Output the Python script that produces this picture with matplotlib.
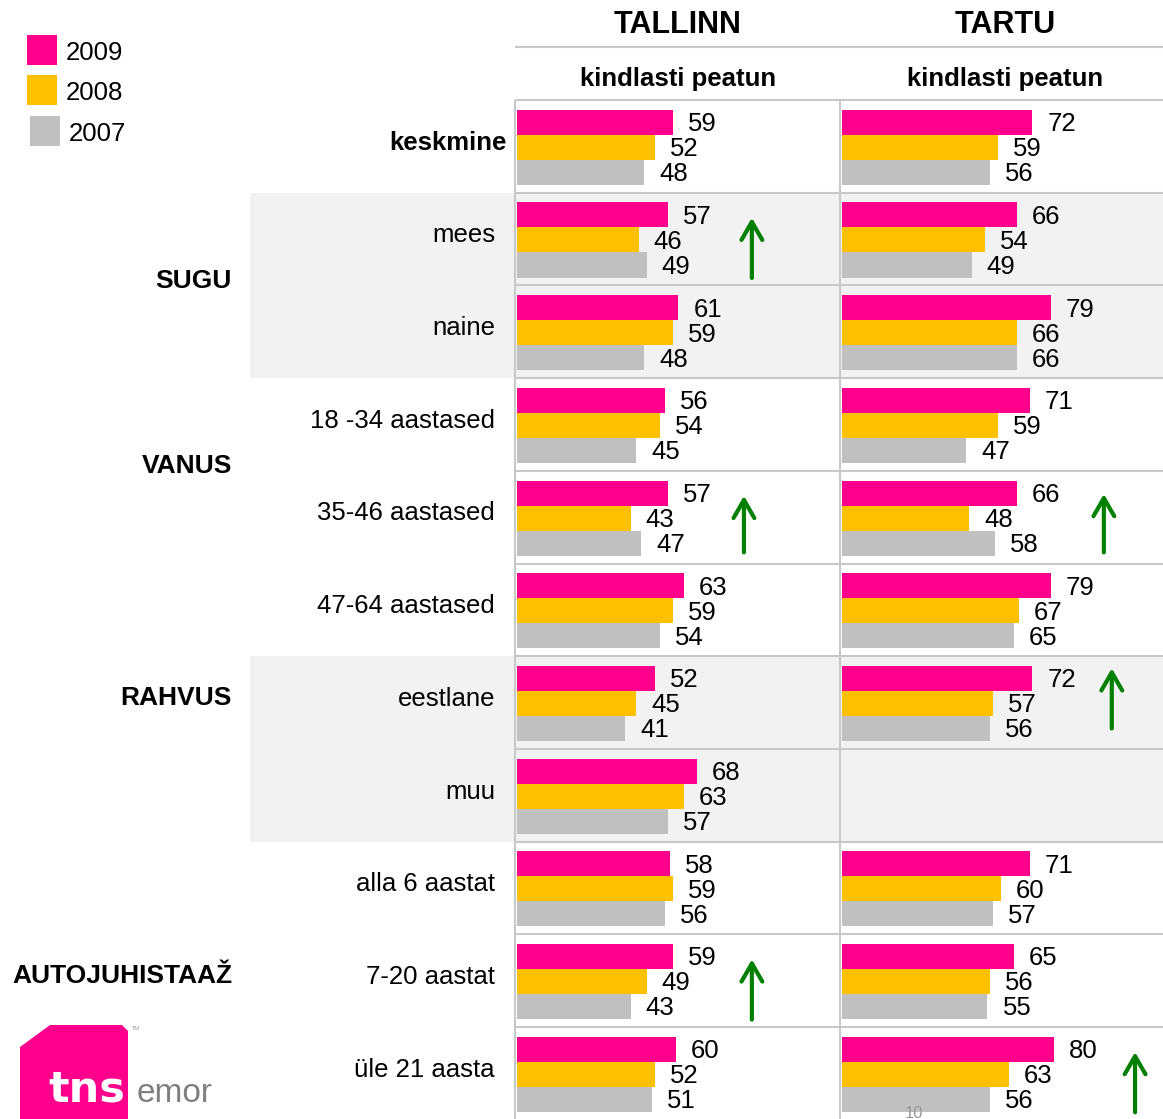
import numpy as np
import matplotlib.pyplot as plt
from matplotlib.patches import Rectangle, Polygon

plt.rcParams['font.family'] = ['Liberation Sans', 'DejaVu Sans']

# andmed
categories = ['keskmine', 'mees', 'naine', '18 -34 aastased', '35-46 aastased',
              '47-64 aastased', 'eestlane', 'muu', 'alla 6 aastat',
              '7-20 aastat', 'üle 21 aasta']
years = ['2009', '2008', '2007']
colors = ['#FF008C', '#FFC000', '#C0C0C0']

tallinn_2009 = [59, 57, 61, 56, 57, 63, 52, 68, 58, 59, 60]
tallinn_2008 = [52, 46, 59, 54, 43, 59, 45, 63, 59, 49, 52]
tallinn_2007 = [48, 49, 48, 45, 47, 54, 41, 57, 56, 43, 51]

tartu_2009 = [72, 66, 79, 71, 66, 79, 72, None, 71, 65, 80]
tartu_2008 = [59, 54, 66, 59, 48, 67, 57, None, 60, 56, 63]
tartu_2007 = [56, 49, 66, 47, 58, 65, 56, None, 57, 55, 56]

groups = ['SUGU', 'VANUS', 'RAHVUS', 'AUTOJUHISTAAŽ']
group_rows = [1.95, 3.95, 6.45, 9.45]   # kus grupi nimi istub (ridades)
shaded_rows = [(1, 2), (6, 2)]           # hall taust: algusrida, ridade arv

# noolekesed: (rida, x protsentides, ülemine, alumine osa reast)
tallinn_arrows = [(1, 88.8, 0.27, 0.92), (4, 85.8, 0.27, 0.88), (9, 88.8, 0.27, 0.92)]
tartu_arrows = [(4, 99.0, 0.25, 0.88), (6, 102.0, 0.13, 0.78), (10, 110.8, 0.27, 0.92)]

W, H = 1163, 1119
TOP = 100
ROW_H = 92.7
PX = 2.645   # pikslit protsendi kohta
GRID = '#C8C8C8'
FS = 18.5

fig = plt.figure(figsize=(W / 100, H / 100), dpi=100)
bg = fig.add_axes([0, 0, 1, 1])
bg.set_xlim(0, W)
bg.set_ylim(H, 0)
bg.axis('off')

# hallid taustaribad
for r0, nr in shaded_rows:
    bg.add_patch(Rectangle((250, TOP + r0 * ROW_H), W - 250, nr * ROW_H,
                           color='#F2F2F2', zorder=0, lw=0))

# tabeli jooned
n = len(categories)
bg.hlines([47, TOP], 515, W, color=GRID, lw=1.5, zorder=1)
bg.hlines([TOP + i * ROW_H for i in range(1, n)], 515, W, color=GRID, lw=1.5, zorder=1)
bg.vlines([515, 840], TOP, H, color=GRID, lw=1.5, zorder=1)

# reanimed
for i, cat in enumerate(categories):
    y = TOP + (i + 0.46) * ROW_H
    if i == 0:
        bg.text(507, y, cat, ha='right', va='center', fontsize=FS, fontweight='bold')
    else:
        bg.text(495, y, cat, ha='right', va='center', fontsize=FS)

for g, gr in zip(groups, group_rows):
    bg.text(232, TOP + gr * ROW_H, g, ha='right', va='center', fontsize=19, fontweight='bold')

# legend
leg_y = [50, 90, 131]
leg_x = [27, 27, 30]
for yr, c, ly, lx in zip(years, colors, leg_y, leg_x):
    bg.add_patch(Rectangle((lx, ly - 15), 30, 30, color=c, lw=0))
    bg.text(lx + 39, ly + 3, yr, ha='left', va='center', fontsize=FS)

# logo
bg.add_patch(Polygon([[20, 1047], [50, 1025], [122, 1025], [128, 1031], [128, 1119], [20, 1119]],
                     closed=True, color='#FF008C', lw=0))
bg.text(48, 1102, 'tns', color='white', fontsize=31, fontweight='bold',
        family=['DejaVu Sans'], ha='left', va='baseline')
bg.text(137, 1102, 'emor', color='#7F7F7F', fontsize=24,
        family=['Liberation Sans Narrow', 'Liberation Sans'], ha='left', va='baseline')
bg.text(132, 1029, 'TM', color='#999999', fontsize=4, ha='left', va='center')

# lehekülje number (figuuri peal, et ribad seda ei kataks)
fig.text(914 / W, (H - 1113) / H, '10', color='#999999', fontsize=12, ha='center', va='center')

panels = [
    ('TALLINN', 515, 325, 678, [tallinn_2009, tallinn_2008, tallinn_2007], tallinn_arrows),
    ('TARTU', 840, 323, 1005, [tartu_2009, tartu_2008, tartu_2007], tartu_arrows),
]

for name, x0, pw, xc, series, arrows in panels:
    bg.text(xc, 25, name, ha='center', va='center', fontsize=22, fontweight='bold')
    bg.text(xc, 79, 'kindlasti peatun', ha='center', va='center',
            fontsize=18.5, fontweight='bold')

    ax = fig.add_axes([x0 / W, 0, pw / W, (H - TOP) / H])
    ax.set_xlim(-2 / PX, (pw - 2) / PX)
    ax.set_ylim((H - TOP) / ROW_H, 0)
    ax.axis('off')

    for k, (vals, c) in enumerate(zip(series, colors)):
        idx = [i for i, v in enumerate(vals) if v is not None]
        vv = [vals[i] for i in idx]
        yy = np.array(idx) + 0.24 + 0.27 * k
        ax.barh(yy, vv, height=0.27, color=c, lw=0)
        for y, v in zip(yy, vv):
            ax.text(v + 15 / PX, y + 0.02, str(v), ha='left', va='center', fontsize=FS)

    for r, ax_x, yt, yb in arrows:
        ax.annotate('', xy=(ax_x, r + yt), xytext=(ax_x, r + yb),
                    arrowprops=dict(arrowstyle='->,head_length=1.3,head_width=0.75',
                                    color='#008000', lw=3, shrinkA=0, shrinkB=0))

fig.savefig('out.png', dpi=100)
